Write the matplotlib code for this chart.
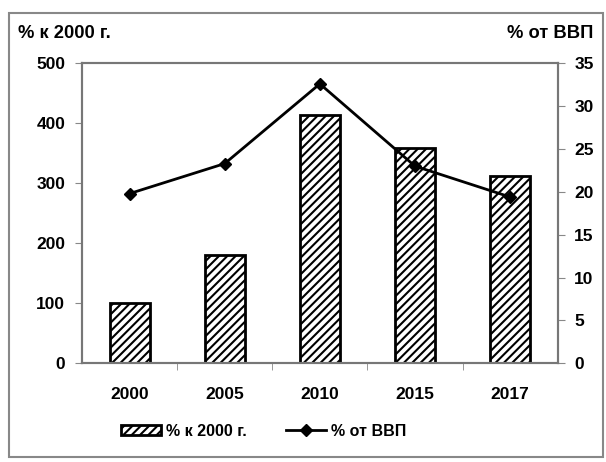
import matplotlib
matplotlib.use("Agg")
import matplotlib.pyplot as plt
from matplotlib.patches import Rectangle
from matplotlib.lines import Line2D
import numpy as np

years = ["2000", "2005", "2010", "2015", "2017"]
pct_2000 = [100, 180, 414, 359, 312]
pct_gdp = [19.8, 23.3, 32.6, 23.0, 19.4]

plt.rcParams["font.family"] = ["Liberation Sans", "DejaVu Sans"]
plt.rcParams["font.weight"] = "bold"
plt.rcParams["hatch.linewidth"] = 1.5

FS = 12.5

fig = plt.figure(figsize=(6.06, 4.62), dpi=100)
ax = fig.add_axes([0.1353, 0.2136, 0.785, 0.6494])
x = np.arange(len(years))

ax.bar(x, pct_2000, width=0.42, color="white", edgecolor="black",
       linewidth=2.0, hatch="////", zorder=2)
ax.set_xlim(-0.5, len(years) - 0.5)
ax.set_ylim(0, 500)
ax.set_yticks(range(0, 501, 100))
ax.set_xticks(x)
ax.set_xticklabels(years, fontsize=FS, fontweight="bold")
ax.tick_params(axis="x", length=0, pad=17)
ax.set_xticks(np.arange(0.5, len(years) - 0.5, 1), minor=True)
ax.tick_params(axis="x", which="minor", length=5, color="#888888", direction="out")
ax.tick_params(axis="y", length=5, color="#888888", labelsize=FS, pad=7)
for lab in ax.get_yticklabels():
    lab.set_fontweight("bold")
for sp in ax.spines.values():
    sp.set_color("#777777")
    sp.set_linewidth(1.5)

ax2 = ax.twinx()
ax2.plot(x, pct_gdp, color="black", linewidth=2.0, marker="D", markersize=6, zorder=3)
ax2.set_ylim(0, 35)
ax2.set_yticks(range(0, 36, 5))
ax2.tick_params(axis="y", length=5, color="#888888", labelsize=FS, pad=7)
for lab in ax2.get_yticklabels():
    lab.set_fontweight("bold")
for sp in ax2.spines.values():
    sp.set_color("#777777")
    sp.set_linewidth(1.5)

fig.text(18 / 606, 1 - 33 / 462, "% к 2000 г.", fontsize=13.2, fontweight="bold",
         ha="left", va="center")
fig.text(593 / 606, 1 - 33 / 462, "% от ВВП", fontsize=13.2, fontweight="bold",
         ha="right", va="center")

handles = [
    Rectangle((0, 0), 1, 1, facecolor="white", edgecolor="black", hatch="////", linewidth=2.0),
    Line2D([0], [0], color="black", linewidth=2.0, marker="D", markersize=6),
]
fig.legend(handles, ["% к 2000 г.", "% от ВВП"], loc="center",
           bbox_to_anchor=(0.435, 1 - 431 / 462), ncol=2, frameon=False,
           prop={"size": 11.5, "weight": "bold"}, columnspacing=2.5,
           handlelength=2.5, handleheight=0.6, handletextpad=0.3)

fig.patches.append(Rectangle((9 / 606, 1 - 457 / 462), 594 / 606, 444 / 462,
                             transform=fig.transFigure, fill=False,
                             edgecolor="#888888", linewidth=1.5))

fig.savefig("out.png", dpi=100)
